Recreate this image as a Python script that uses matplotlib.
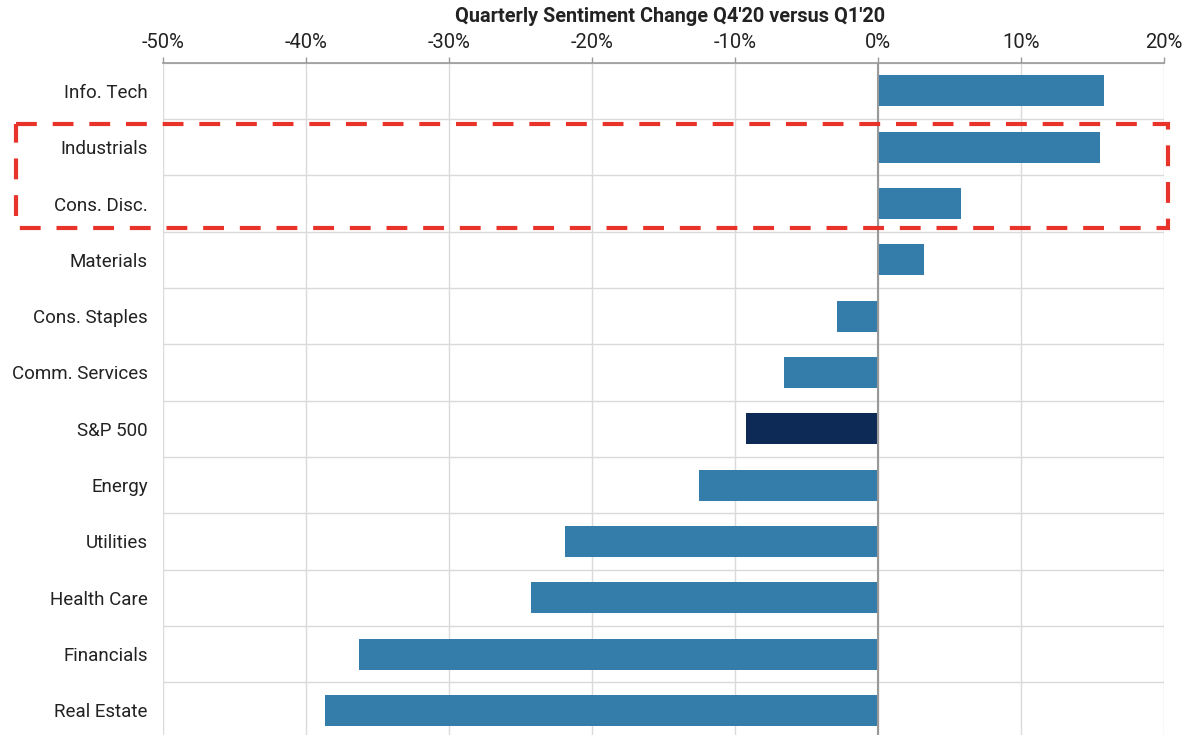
import numpy as np
import matplotlib.pyplot as plt
from matplotlib.patches import Rectangle
from matplotlib.ticker import FuncFormatter

plt.rcParams['font.family'] = ['Roboto', 'DejaVu Sans']

# sector sentiment change, Q4'20 vs Q1'20 (%)
sectors = ['Info. Tech', 'Industrials', 'Cons. Disc.', 'Materials', 'Cons. Staples',
           'Comm. Services', 'S&P 500', 'Energy', 'Utilities', 'Health Care',
           'Financials', 'Real Estate']
change = [15.8, 15.5, 5.8, 3.2, -2.9, -6.6, -9.2, -12.5, -21.9, -24.3, -36.3, -38.7]
highlight = ['Industrials', 'Cons. Disc.']

blue = '#347CAA'
navy = '#0D2A57'
text_col = '#222222'

fig = plt.figure(figsize=(11.99, 7.35), dpi=100)
ax = fig.add_axes([163 / 1199, 1 - 738.6 / 735, (1164 - 163) / 1199, (738.6 - 62.7) / 735])

y = np.arange(len(sectors))
colors = [navy if s == 'S&P 500' else blue for s in sectors]
ax.barh(y, change, height=0.55, color=colors, zorder=3)

ax.set_xlim(-50, 20)
ax.set_ylim(len(sectors) - 0.5, -0.5)

# grid: vertical at each 10%, horizontal between rows
ax.set_xticks(np.arange(-50, 21, 10))
ax.xaxis.set_major_formatter(FuncFormatter(lambda v, p: f'{v:.0f}%'))
ax.xaxis.tick_top()
ax.tick_params(axis='x', direction='out', length=4, width=1, color='#999999',
               labelsize=14.5, labelcolor=text_col, pad=4)
ax.set_yticks(y)
ax.set_yticklabels(sectors, fontsize=13.5, color=text_col)
ax.tick_params(axis='y', length=0, pad=11)
ax.set_yticks(np.arange(len(sectors) + 1) - 0.5, minor=True)
ax.tick_params(axis='y', which='minor', length=0)
ax.grid(axis='x', which='major', color='#DADADA', linewidth=1, zorder=0)
ax.grid(axis='y', which='minor', color='#DADADA', linewidth=1, zorder=0)
ax.grid(axis='y', which='major', visible=False)

for side in ['left', 'right', 'bottom']:
    ax.spines[side].set_visible(False)
ax.spines['top'].set_color('#999999')
ax.spines['top'].set_linewidth(1.2)
ax.axvline(0, color='#999999', linewidth=1.5, zorder=4)

fig.text(670 / 1199, 1 - 16 / 735, "Quarterly Sentiment Change Q4'20 versus Q1'20",
         ha='center', va='center', fontsize=14.3, fontweight='bold', color=text_col)

# red dashed box around the highlighted sectors
i0 = sectors.index(highlight[0])
i1 = sectors.index(highlight[-1])
box = Rectangle((-60.3, i0 - 0.41), 80.6, (i1 + 0.43) - (i0 - 0.41), fill=False,
                edgecolor='#E8332B', linewidth=3, linestyle=(0, (5, 3.8)),
                clip_on=False, zorder=5)
ax.add_patch(box)

fig.savefig('out.png', dpi=100)
